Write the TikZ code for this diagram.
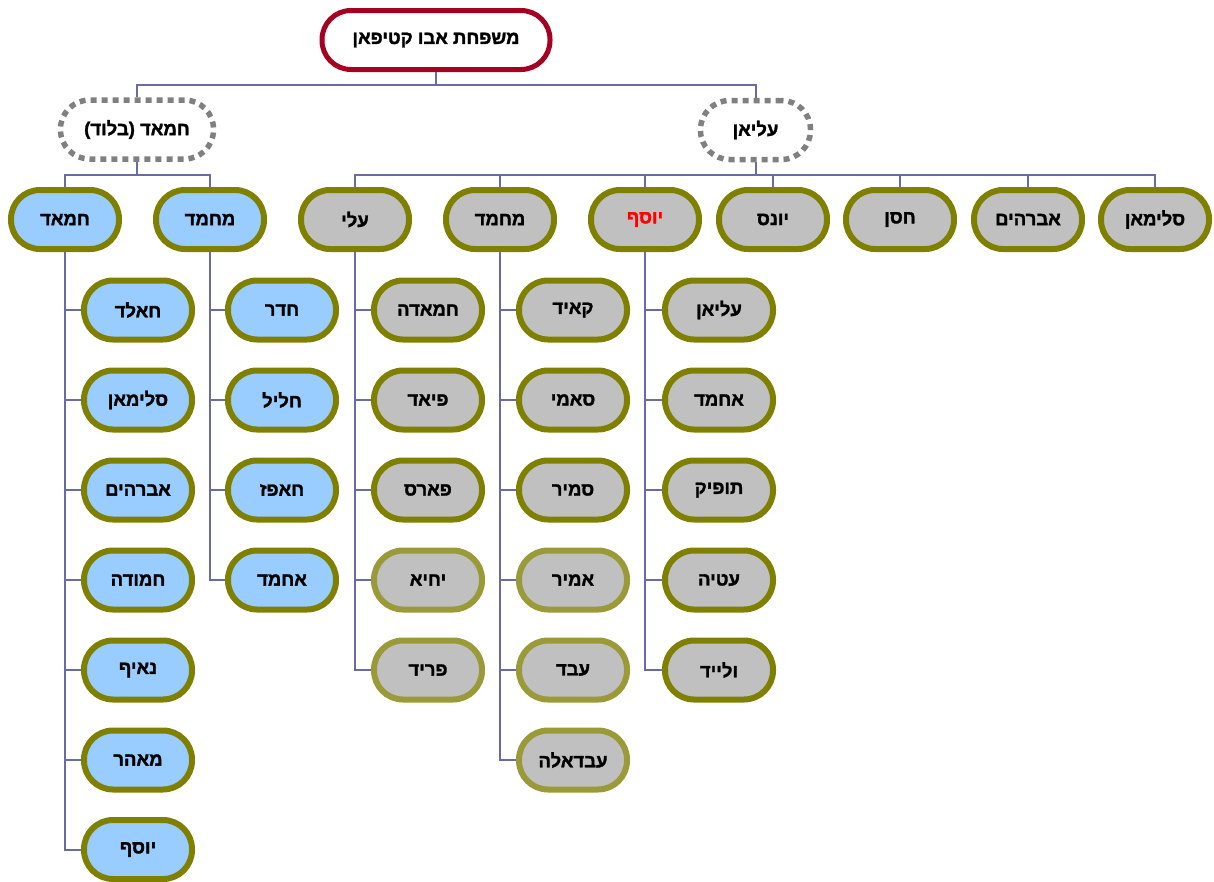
\documentclass[tikz,border=0pt]{standalone}
\usepackage{fontspec}
\newfontfamily\hebfont[Script=Hebrew, FakeBold=1.6]{Liberation Sans Bold}
\newfontfamily\punctfont[FakeBold=1.6]{Liberation Sans Bold}
\TeXXeTstate=1
\newcommand\heb[1]{\beginR #1\endR}
\newcommand\lpar{{\punctfont(}}
\newcommand\rpar{{\punctfont)}}
\definecolor{linkc}{HTML}{6B6BA3}
\definecolor{rootc}{HTML}{A50021}
\definecolor{dashc}{HTML}{808080}
\definecolor{olive}{HTML}{808000}
\definecolor{oliveL}{HTML}{9A9A38}
\definecolor{bluef}{HTML}{99CCFF}
\definecolor{grayf}{HTML}{C0C0C0}
\tikzset{
  pill/.style={rectangle, rounded corners=29pt, minimum width=108pt, minimum height=59pt,
    inner sep=0pt, line width=6pt, font=\hebfont\fontsize{18.5}{20}\selectfont},
  bluebox/.style={pill, draw=olive, fill=bluef},
  graybox/.style={pill, draw=olive, fill=grayf},
  paleb/.style={pill, draw=oliveL, fill=grayf},
  rootbox/.style={pill, draw=rootc, fill=white, line width=5pt, minimum width=228pt},
  branchbox/.style={pill, draw=dashc, fill=white, line width=5.5pt,
    dash pattern=on 6pt off 5pt},
  link/.style={draw=linkc, line width=2pt},
}
\begin{document}
\begin{tikzpicture}[x=1pt,y=-1pt]
\useasboundingbox (0,0) rectangle (1214,881);

% top of the family
\node[rootbox] (root) at (436,40) {\heb{משפחת אבו קטיפאן}};
\node[branchbox, minimum width=153pt] (lod) at (137,129.5) {\lpar\heb{בלוד}\rpar\ \heb{חמאד}};
\node[branchbox, minimum width=110pt] (ilyan) at (755.5,130) {\heb{עליאן}};

% second generation
\node[bluebox] (hamad) at (65,219.5) {\heb{חמאד}};
\node[bluebox] (muhA) at (210,219.5) {\heb{מחמד}};
\node[graybox] (ali) at (355,219.5) {\heb{עלי}};
\node[graybox] (muhB) at (500,219.5) {\heb{מחמד}};
\node[graybox, text=red] (yusuf) at (645,219.5) {\heb{יוסף}};
\node[graybox] (yunis) at (773,219.5) {\heb{יונס}};
\node[graybox] (hasan) at (900,219.5) {\heb{חסן}};
\node[graybox] (ibrahim) at (1028,219.5) {\heb{אברהים}};
\node[graybox] (sliman) at (1155,219.5) {\heb{סלימאן}};

% children of hamad
\node[bluebox] (h1) at (138,310) {\heb{חאלד}};
\node[bluebox] (h2) at (138,400) {\heb{סלימאן}};
\node[bluebox] (h3) at (138,490) {\heb{אברהים}};
\node[bluebox] (h4) at (138,580) {\heb{חמודה}};
\node[bluebox] (h5) at (138,670) {\heb{נאיף}};
\node[bluebox] (h6) at (138,760) {\heb{מאהר}};
\node[bluebox] (h7) at (138,849.5) {\heb{יוסף}};

% children of muhammad (blue)
\node[bluebox] (m1) at (282,310) {\heb{חדר}};
\node[bluebox] (m2) at (282,400) {\heb{חליל}};
\node[bluebox] (m3) at (282,490) {\heb{חאפז}};
\node[bluebox] (m4) at (282,580) {\heb{אחמד}};

% children of ali
\node[graybox] (a1) at (428,310) {\heb{חמאדה}};
\node[graybox] (a2) at (428,400) {\heb{פיאד}};
\node[graybox] (a3) at (428,490) {\heb{פארס}};
\node[paleb] (a4) at (428,580) {\heb{יחיא}};
\node[paleb] (a5) at (428,670) {\heb{פריד}};

% children of muhammad (gray)
\node[graybox] (b1) at (573,310) {\heb{קאיד}};
\node[graybox] (b2) at (573,400) {\heb{סאמי}};
\node[graybox] (b3) at (573,490) {\heb{סמיר}};
\node[paleb] (b4) at (573,580) {\heb{אמיר}};
\node[paleb] (b5) at (573,670) {\heb{עבד}};
\node[paleb] (b6) at (573,760) {\heb{עבדאלה}};

% children of yusuf
\node[graybox] (y1) at (719,310) {\heb{עליאן}};
\node[graybox] (y2) at (719,400) {\heb{אחמד}};
\node[graybox] (y3) at (719,490) {\heb{תופיק}};
\node[graybox] (y4) at (719,580) {\heb{עטיה}};
\node[graybox] (y5) at (719,670) {\heb{ולייד}};

% bus lines
\coordinate (bus0) at (436,85);
\coordinate (busL) at (137,175);
\coordinate (busR) at (755.5,175);

\draw[link] (root.south) -- (bus0);
\draw[link] (bus0) -| (lod.north);
\draw[link] (bus0) -| (ilyan.north);

\draw[link] (lod.south) -- (busL);
\foreach \n in {hamad,muhA} \draw[link] (busL) -| (\n.north);

\draw[link] (ilyan.south) -- (busR);
\foreach \n in {ali,muhB,yusuf,yunis,hasan,ibrahim,sliman} \draw[link] (busR) -| (\n.north);

\foreach \n in {h1,h2,h3,h4,h5,h6,h7} \draw[link] (hamad.south) |- (\n.west);
\foreach \n in {m1,m2,m3,m4} \draw[link] (muhA.south) |- (\n.west);
\foreach \n in {a1,a2,a3,a4,a5} \draw[link] (ali.south) |- (\n.west);
\foreach \n in {b1,b2,b3,b4,b5,b6} \draw[link] (muhB.south) |- (\n.west);
\foreach \n in {y1,y2,y3,y4,y5} \draw[link] (yusuf.south) |- (\n.west);
\end{tikzpicture}
\end{document}
